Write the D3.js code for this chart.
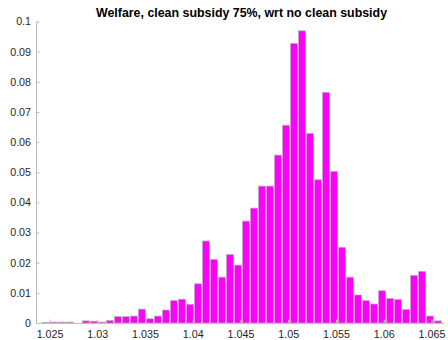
<!DOCTYPE html>
<html>
<head>
<meta charset="utf-8">
<script src="https://cdn.jsdelivr.net/npm/d3@7/dist/d3.min.js"></script>
<style>
  html, body { margin: 0; padding: 0; background: #fff; }
  svg { display: block; }
  text { font-family: "Liberation Sans", Arial, Helvetica, sans-serif; }
</style>
</head>
<body>
<svg id="chart" width="448" height="340"></svg>
<script>
// Histogram of welfare ratios (probability normalisation)
const titleText = "Welfare, clean subsidy 75%, wrt no clean subsidy";
const binStart = 1.02421;
const binWidth = 0.000838;
const probabilities = [
  0.0002, 0.0003, 0.0003, 0.0003, 0.0000, 0.0007, 0.0006, 0.0003, 0.0008, 0.0021,
  0.0021, 0.0023, 0.0046, 0.0014, 0.0023, 0.0043, 0.0074, 0.0079, 0.0062, 0.0130,
  0.0272, 0.0211, 0.0152, 0.0227, 0.0192, 0.0338, 0.0381, 0.0454, 0.0454, 0.0557,
  0.0656, 0.0927, 0.0969, 0.0629, 0.0475, 0.0765, 0.0503, 0.0251, 0.0152, 0.0093,
  0.0074, 0.0063, 0.0107, 0.0081, 0.0078, 0.0045, 0.0158, 0.0171, 0.0023, 0.0007
];
const xTicks = [1.025, 1.03, 1.035, 1.04, 1.045, 1.05, 1.055, 1.06, 1.065];
const xTickLabels = ["1.025", "1.03", "1.035", "1.04", "1.045", "1.05", "1.055", "1.06", "1.065"];
const yTicks = [0, 0.01, 0.02, 0.03, 0.04, 0.05, 0.06, 0.07, 0.08, 0.09, 0.1];
const yTickLabels = ["0", "0.01", "0.02", "0.03", "0.04", "0.05", "0.06", "0.07", "0.08", "0.09", "0.1"];

const bins = probabilities.map((p, i) => ({
  x0: binStart + i * binWidth,
  x1: binStart + (i + 1) * binWidth,
  p
}));

const svg = d3.select("#chart");
const plotLeft = 36, plotRight = 444, plotTop = 21.5, plotBottom = 323;

const x = d3.scaleLinear().domain([1.023586, 1.06631]).range([plotLeft, plotRight]);
const y = d3.scaleLinear().domain([0, 0.1]).range([plotBottom, plotTop]);

const axisColor = "#bdbdbd";
const textColor = "#262626";

// bars
svg.append("g")
  .selectAll("rect")
  .data(bins)
  .join("rect")
  .attr("x", d => x(d.x0) + 0.5)
  .attr("width", d => x(d.x1) - x(d.x0) - 1.2)
  .attr("y", d => y(d.p))
  .attr("height", d => y(0) - y(d.p))
  .attr("fill", "#ff00ff")
  .attr("stroke", "#b8a8b8")
  .attr("stroke-width", 0.7);

// x axis (ticks pointing inward)
const xAxis = svg.append("g")
  .attr("transform", `translate(0,${plotBottom})`)
  .call(d3.axisBottom(x).tickValues(xTicks)
    .tickFormat((d, i) => xTickLabels[i])
    .tickSizeInner(-3.5).tickSizeOuter(0).tickPadding(7.5));
xAxis.select(".domain").attr("stroke", axisColor);
xAxis.selectAll(".tick line").attr("stroke", axisColor);
xAxis.selectAll(".tick text").attr("fill", textColor)
  .attr("font-size", "10.7px").attr("font-family", "Liberation Sans, Arial, sans-serif");

// y axis (ticks pointing inward)
const yAxis = svg.append("g")
  .attr("transform", `translate(${plotLeft},0)`)
  .call(d3.axisLeft(y).tickValues(yTicks)
    .tickFormat((d, i) => yTickLabels[i])
    .tickSizeInner(-3.5).tickSizeOuter(0).tickPadding(5));
yAxis.select(".domain").attr("stroke", axisColor);
yAxis.selectAll(".tick line").attr("stroke", axisColor);
yAxis.selectAll(".tick text").attr("fill", textColor)
  .attr("font-size", "10.7px").attr("font-family", "Liberation Sans, Arial, sans-serif");

// title
svg.append("text")
  .attr("x", 241.5)
  .attr("y", 17)
  .attr("text-anchor", "middle")
  .attr("font-weight", "bold")
  .attr("font-size", "12.4px")
  .attr("fill", "#000")
  .text(titleText);
</script>
</body>
</html>
